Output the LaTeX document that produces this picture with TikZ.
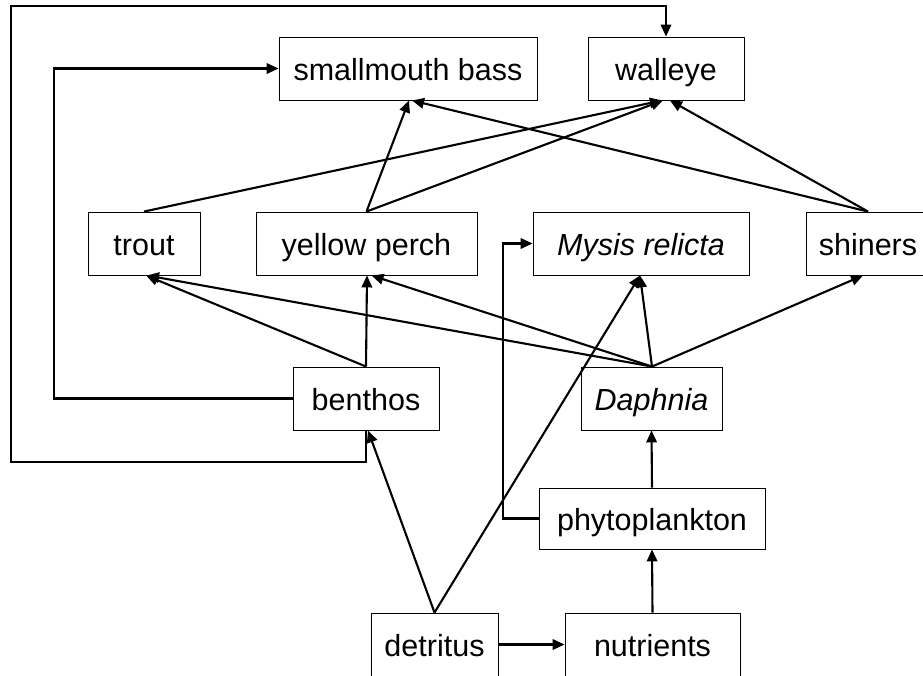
\documentclass[tikz,border=0pt]{standalone}
\usepackage{fontspec}
\setmainfont{Liberation Sans}
\usetikzlibrary{arrows.meta}
\begin{document}
\begin{tikzpicture}[x=1pt,y=-1pt,
  box/.style={draw, line width=0.9pt, inner sep=0pt, minimum height=63pt, text height=26pt, text depth=3pt, font=\fontsize{30.5}{36}\selectfont},
  conn/.style={line width=2.1pt, -{Triangle[length=12pt,width=10.5pt]}},
  plain/.style={line width=2.1pt}]
\fill[white] (0,0) rectangle (923,675);
\useasboundingbox (0,0) rectangle (923,675);
\node[box, minimum width=258pt] (smb) at (408,68.5) {smallmouth bass};
\node[box, minimum width=156pt] (wal) at (666,68.5) {walleye};
\node[box, minimum width=112pt] (tro) at (144,243.5) {trout};
\node[box, minimum width=221pt] (yp) at (366.5,243.5) {yellow perch};
\node[box, minimum width=216pt] (mys) at (641,243.5) {\itshape Mysis relicta};
\node[box, minimum width=124pt] (shi) at (868,243.5) {shiners};
\node[box, minimum width=146pt] (ben) at (366,398.5) {benthos};
\node[box, minimum width=141pt] (dap) at (651.5,398.5) {\itshape Daphnia};
\node[box, minimum width=226pt, minimum height=61pt] (phy) at (652,518.5) {phytoplankton};
\node[box, minimum width=127pt] (det) at (434.5,644.5) {detritus};
\node[box, minimum width=175pt] (nut) at (652.5,644.5) {nutrients};
\coordinate (lb) at (54,69);
\coordinate (b2) at (11,462);
\coordinate (t2) at (11,6);
\coordinate (mx) at (503,243);
% loops
\draw[conn] (ben.west) -- (ben.west -| lb) |- (smb.west);
\draw[conn] (ben.south) |- (b2) -- (t2) -| (wal.north);
\draw[conn] (phy.west) -- (phy.west -| mx) |- (mys.west);
% to walleye / smallmouth
\draw[conn] (tro.north) -- ([xshift=-4pt]wal.south);
\draw[conn] (yp.north) -- ([xshift=-3pt]wal.south);
\draw[conn] (yp.north) -- ([xshift=1pt]smb.south);
\draw[conn] (shi.north) -- ([xshift=4pt]wal.south);
\draw[conn] (shi.north) -- ([xshift=4pt]smb.south);
% from benthos
\draw[conn] (ben.north) -- ([xshift=2pt]tro.south);
\draw[conn] (ben.north) -- ([xshift=0.5pt]yp.south);
% from Daphnia
\draw[conn] ([xshift=0.5pt]dap.north) -- ([xshift=3pt]tro.south);
\draw[conn] ([xshift=0.5pt]dap.north) -- ([xshift=5pt]yp.south);
\draw[conn] ([xshift=0.5pt]dap.north) -- ([xshift=-1pt]mys.south);
\draw[conn] ([xshift=0.5pt]dap.north) -- ([xshift=-5pt]shi.south);
% lower
\draw[conn] (phy.north) -- (dap.south);
\draw[conn] (nut.north) -- (phy.north |- phy.south);
\draw[conn] (det.north) -- ([xshift=2pt]ben.south);
\draw[conn] (det.north) -- ([xshift=-1pt]mys.south);
\draw[conn] (det.east) -- (nut.west);
\end{tikzpicture}
\end{document}
